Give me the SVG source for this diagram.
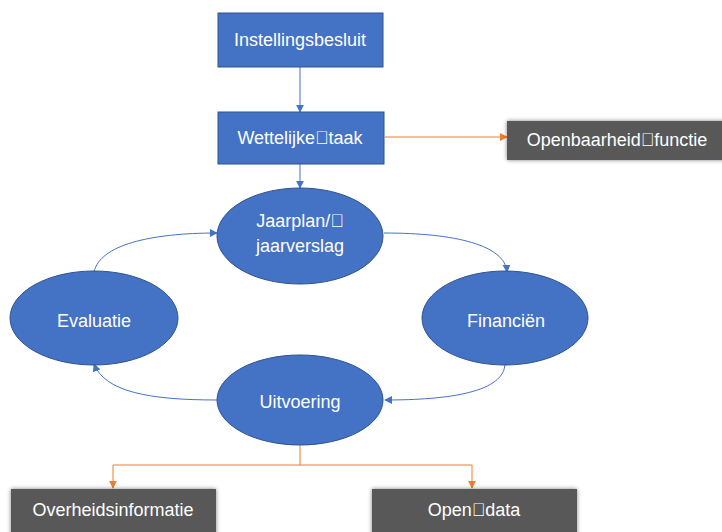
<svg xmlns="http://www.w3.org/2000/svg" width="722" height="532" viewBox="0 0 722 532">
<defs>
<style>
.blue{fill:#4472C4;stroke:#2F528F;stroke-width:1}
.gray{fill:#595959}
.t{font-family:"Liberation Sans","Open Sans",sans-serif;font-size:18px;fill:#ffffff;text-anchor:middle;dominant-baseline:central}
.cb{fill:none;stroke:#4472C4;stroke-width:1}
.co{fill:none;stroke:#ED7D31;stroke-width:1}
</style>
<marker id="ab" viewBox="0 0 10 10" refX="9" refY="5" markerWidth="8" markerHeight="8" markerUnits="userSpaceOnUse" orient="auto"><path d="M0,0 L10,5 L0,10 z" fill="#4472C4"/></marker>
<marker id="ao" viewBox="0 0 10 10" refX="9" refY="5" markerWidth="8" markerHeight="8" markerUnits="userSpaceOnUse" orient="auto"><path d="M0,0 L10,5 L0,10 z" fill="#ED7D31"/></marker>
<filter id="sh" x="-10%" y="-20%" width="120%" height="140%"><feGaussianBlur in="SourceAlpha" stdDeviation="2"/><feOffset dx="0" dy="0" result="b"/><feFlood flood-color="#000" flood-opacity="0.5"/><feComposite in2="b" operator="in"/><feMerge><feMergeNode/><feMergeNode in="SourceGraphic"/></feMerge></filter>
</defs>
<rect width="722" height="532" fill="#ffffff"/>
<g id="connectors">
<path class="cb" d="M300,67 L300,112" marker-end="url(#ab)"/>
<path class="cb" d="M300,164 L300,188" marker-end="url(#ab)"/>
<path class="co" d="M385,137 L507,137" marker-end="url(#ao)"/>
<path class="cb" d="M384,233 C455,233 505,245 507,272" marker-end="url(#ab)"/>
<path class="cb" d="M505,363 C505,392 450,400 385,400" marker-end="url(#ab)"/>
<path class="cb" d="M217,400 C150,400 105,392 94,364" marker-end="url(#ab)"/>
<path class="cb" d="M94,272 C100,245 150,233 217,233" marker-end="url(#ab)"/>
<path class="co" d="M300,445 L300,465 L113,465 L113,488" marker-end="url(#ao)"/>
<path class="co" d="M300,465 L472,465 L472,488" marker-end="url(#ao)"/>
</g>
<g id="instellingsbesluit"><rect class="blue" x="218" y="13" width="165" height="54"/><text class="t" x="300" y="40">Instellingsbesluit</text></g>
<g id="wettelijke-taak"><rect class="blue" x="218" y="112" width="166" height="52"/><text class="t" x="300" y="138">Wettelijke&#xF020;taak</text></g>
<g id="openbaarheid-functie"><rect class="gray" filter="url(#sh)" x="507" y="121" width="220" height="39"/><text class="t" x="617" y="140">Openbaarheid&#xF020;functie</text></g>
<g id="jaarplan"><ellipse class="blue" cx="300" cy="236" rx="83" ry="48"/><text class="t" x="300" y="221">Jaarplan/&#xF020;</text><text class="t" x="300" y="246">jaarverslag</text></g>
<g id="evaluatie"><ellipse class="blue" cx="94" cy="318" rx="84" ry="47"/><text class="t" x="94" y="321">Evaluatie</text></g>
<g id="financien"><ellipse class="blue" cx="505" cy="318" rx="83" ry="47"/><text class="t" x="506" y="321">Financiën</text></g>
<g id="uitvoering"><ellipse class="blue" cx="300" cy="400" rx="83" ry="45"/><text class="t" x="300" y="402">Uitvoering</text></g>
<g id="overheidsinformatie"><rect class="gray" filter="url(#sh)" x="11" y="489" width="205" height="50"/><text class="t" x="113" y="510">Overheidsinformatie</text></g>
<g id="open-data"><rect class="gray" filter="url(#sh)" x="372" y="489" width="205" height="50"/><text class="t" x="474" y="510">Open&#xF020;data</text></g>
</svg>
